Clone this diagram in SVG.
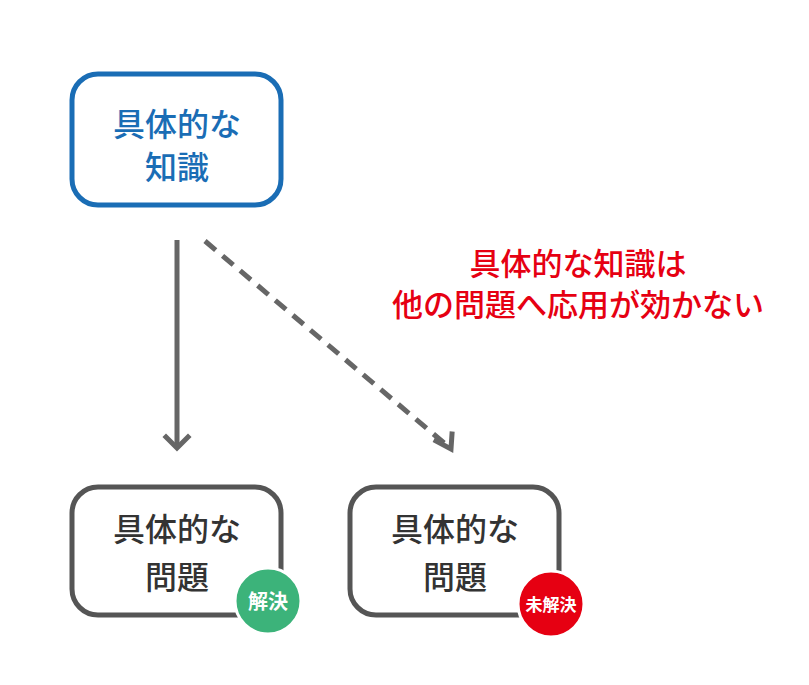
<svg xmlns="http://www.w3.org/2000/svg" width="809" height="685" viewBox="0 0 809 685">
<style>
text{font-family:"Noto Sans CJK JP","Noto Sans",sans-serif;text-anchor:middle;font-weight:500}
.box{fill:#fff;stroke-width:5}
.t{font-size:32px}
.c{stroke:#666;stroke-width:5;fill:none}
.h{stroke:#666;stroke-width:5;fill:none;stroke-linecap:square}
.b{fill:#fff;font-weight:bold}
</style>
<rect width="809" height="685" fill="#fff"/>
<g id="top">
<rect class="box" x="72" y="74" width="209" height="131" rx="26" stroke="#1a6db5"/>
<text class="t" x="177" y="136" fill="#1a6db5">具体的な</text>
<text class="t" x="177" y="179" fill="#1a6db5">知識</text>
</g>
<g id="connectors">
<line class="c" x1="177" y1="240" x2="177" y2="448"/>
<polyline class="h" points="166,437 177,448 188,437"/>
<line class="c" x1="205" y1="241" x2="450" y2="448" stroke-dasharray="14,9"/>
<polyline class="h" points="436,441 451,449 452,434"/>
</g>
<g id="note">
<text x="578" y="275" font-size="31" fill="#e60012">具体的な知識は</text>
<text x="578" y="316" font-size="31" fill="#e60012">他の問題へ応用が効かない</text>
</g>
<g id="left">
<rect class="box" x="72" y="487" width="209" height="128" rx="26" stroke="#555"/>
<text class="t" x="177" y="541" fill="#333">具体的な</text>
<text class="t" x="177" y="589" fill="#333">問題</text>
<circle cx="268" cy="601" r="33" fill="#3cb37a" stroke="#fff" stroke-width="3"/>
<text class="b" x="268" y="609" font-size="20">解決</text>
</g>
<g id="right">
<rect class="box" x="350" y="487" width="209" height="128" rx="26" stroke="#555"/>
<text class="t" x="455" y="541" fill="#333">具体的な</text>
<text class="t" x="455" y="589" fill="#333">問題</text>
<circle cx="551" cy="604" r="33" fill="#e60012" stroke="#fff" stroke-width="3"/>
<text class="b" x="551" y="611" font-size="17">未解決</text>
</g>
</svg>
